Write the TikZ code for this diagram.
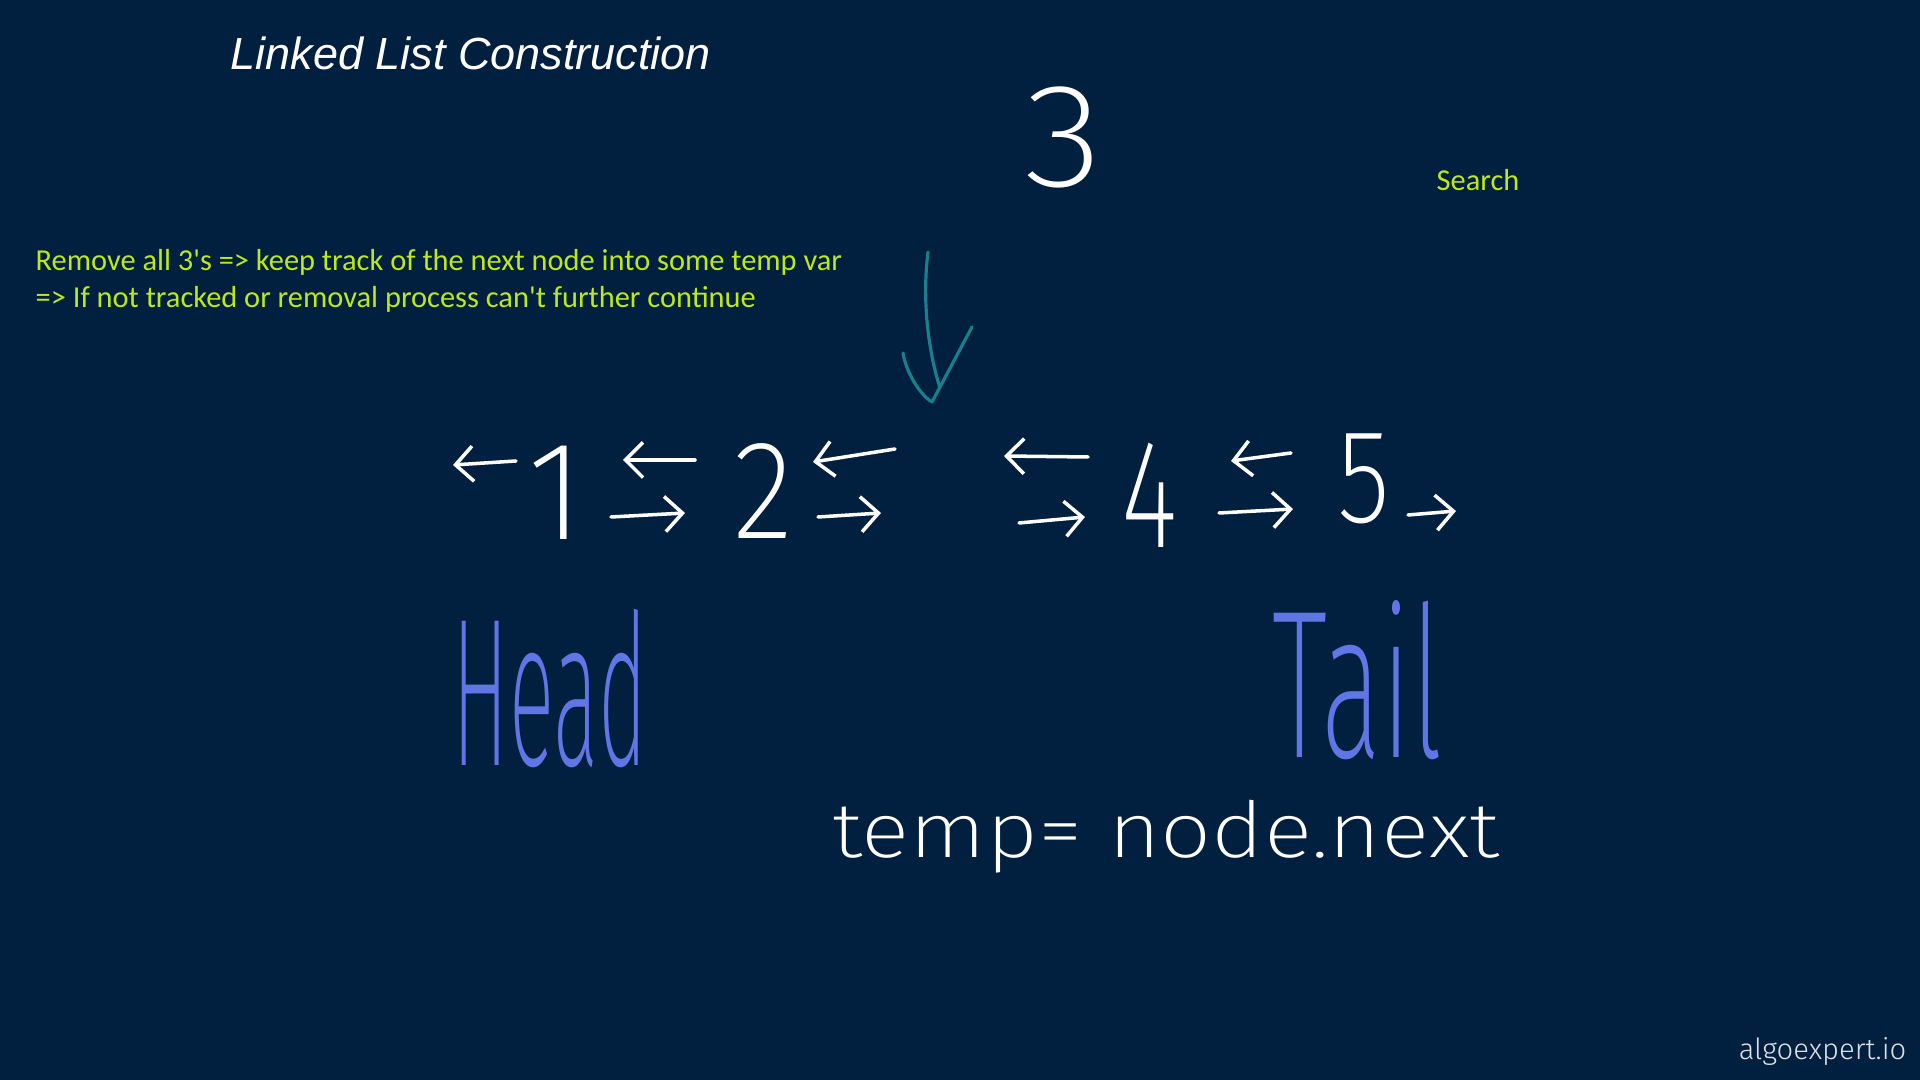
\documentclass[tikz,border=0pt]{standalone}
\usepackage{fontspec}
\usetikzlibrary{arrows.meta}
\setmainfont{Liberation Sans}
\newfontfamily\titlefont{Liberation Sans}
\newfontfamily\notefont{Carlito}
\newfontfamily\logofont{Fira Sans Light}
\newfontfamily\handfont{Fira Sans ExtraLight}
\definecolor{bgnavy}{RGB}{1,31,63}
\definecolor{notegreen}{RGB}{190,232,22}
\definecolor{inkblue}{RGB}{95,118,228}
\definecolor{inkteal}{RGB}{24,128,140}
\definecolor{logogray}{RGB}{220,225,232}
\tikzset{
  hand/.style={font=\handfont, text=white, inner sep=0pt, anchor=base},
  note/.style={font=\notefont\fontsize{8.65}{10}\selectfont, text=notegreen, anchor=base west, inner sep=0pt},
  arr/.style={draw=white, line width=1pt, line cap=round, line join=round,
    -{Straight Barb[length=5pt,width=10pt]}},
  tealink/.style={draw=inkteal, line width=0.9pt, line cap=round, line join=round}
}
\begin{document}
\begin{tikzpicture}[x=0.01cm,y=-0.01cm]
\useasboundingbox (0,0) rectangle (1920,1080);
\fill[bgnavy] (0,0) rectangle (1920,1080);

% title and notes
\node[font=\titlefont\itshape\fontsize{12.8}{15}\selectfont, text=white, anchor=base west, inner sep=0pt] (title) at (230,70) {Linked List Construction};
\node[note] (note1) at (35,271) {Remove all 3's => keep track of the next node into some temp var};
\node[note] (note2) at (35,308) {=> If not tracked or removal process can't further continue};
\node[note] (search) at (1436,191) {Search};
\node[font=\logofont\fontsize{8.3}{10}\selectfont, text=logogray, anchor=base east, inner sep=0pt] (logo) at (1907,1060) {algoexpert.io};

% handwritten value 3 (removed)
\node[hand, font=\handfont\fontsize{42}{42}\selectfont] (three) at (1064,187) {\scalebox{1.1}[1]{3}};

% list values
\node[hand, font=\handfont\fontsize{40}{40}\selectfont] (n1) at (556,540) {1};
\node[hand, font=\handfont\fontsize{40}{40}\selectfont] (n2) at (763,539) {\scalebox{0.9}[1]{2}};
\node[hand, font=\handfont\fontsize{40}{40}\selectfont] (n4) at (1150,548) {\scalebox{0.78}[1.1]{4}};
\node[hand, font=\handfont\fontsize{40}{40}\selectfont] (n5) at (1364,523) {\scalebox{0.78}[0.95]{5}};

% removal pointer (teal)
\coordinate (tstem) at (928,252);
\coordinate (tmid) at (940,388);
\coordinate (tright) at (972,327);
\coordinate (tbot) at (932,402);
\coordinate (tleft) at (903,353);
\draw[tealink] (tstem) .. controls (922,300) and (928,350) .. (tmid);
\draw[tealink] (tright) -- (tbot) .. controls (920,395) and (906,372) .. (tleft);

% links
\coordinate (a1s) at (516,461); \coordinate (a1e) at (453,465);
\coordinate (a2s) at (695,460); \coordinate (a2e) at (623,460);
\coordinate (a3s) at (611,517); \coordinate (a3e) at (685,513);
\coordinate (a4s) at (895,449); \coordinate (a4e) at (813,462);
\coordinate (a5s) at (818,517); \coordinate (a5e) at (881,513);
\coordinate (a6s) at (1088,457); \coordinate (a6e) at (1004,456);
\coordinate (a7s) at (1019,523); \coordinate (a7e) at (1085,517);
\coordinate (a8s) at (1291,453); \coordinate (a8e) at (1231,461);
\coordinate (a9s) at (1219,513); \coordinate (a9e) at (1293,509);
\coordinate (a10s) at (1408,515); \coordinate (a10e) at (1456,511);
\foreach \i in {1,...,10} { \draw[arr] (a\i s) -- (a\i e); }

% Head / Tail labels
\node[hand, text=inkblue, font=\handfont\fontsize{50}{50}\selectfont] (head) at (550,766) {\scalebox{0.48}[1.2]{Head}};
\node[hand, text=inkblue, font=\handfont\fontsize{50}{50}\selectfont] (tail) at (1358,758) {\scalebox{0.64}[1.2]{Tail}};

% temp assignment
\node[hand, font=\handfont\fontsize{22}{22}\selectfont] (temp) at (1166,858) {\scalebox{1.165}[1]{temp= node.next}};
\end{tikzpicture}
\end{document}
